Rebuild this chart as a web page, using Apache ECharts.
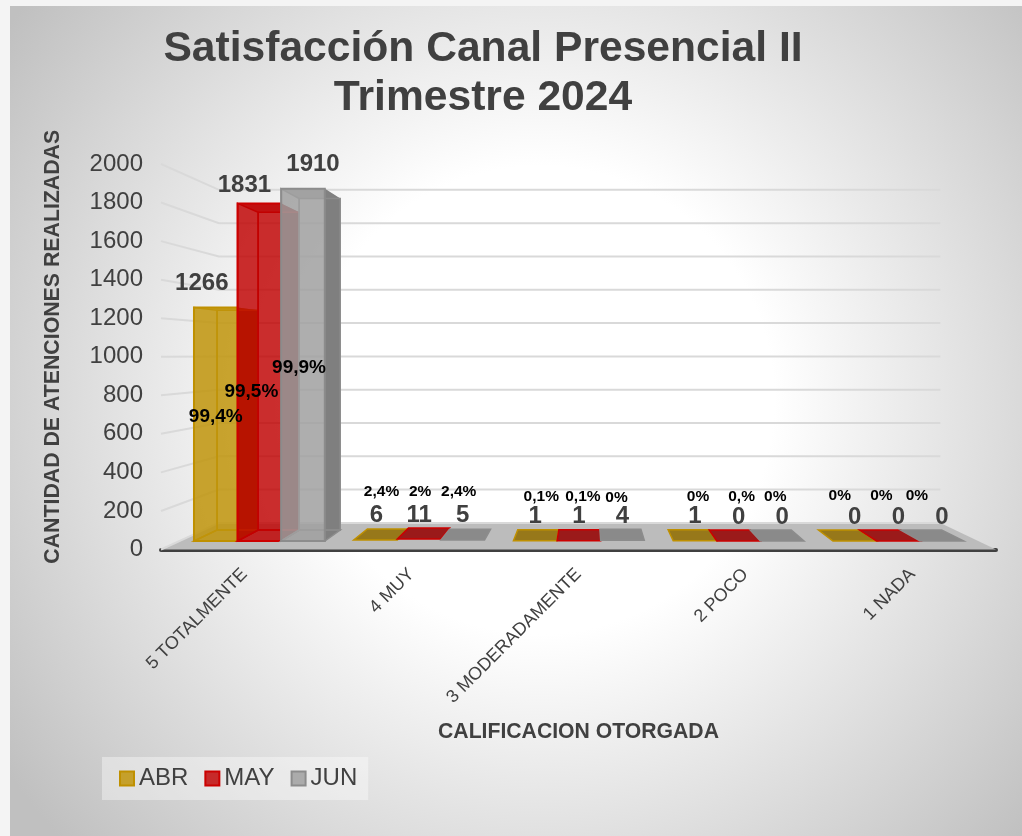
<!DOCTYPE html>
<html>
<head>
<meta charset="utf-8">
<style>html,body{margin:0;padding:0;background:#f4f4f4}#c{width:1022px;height:836px}</style>
<script src="https://cdn.jsdelivr.net/npm/echarts@6/dist/echarts.min.js"></script>
</head>
<body>
<div id="c"></div>
<script>
const categories = ['5 TOTALMENTE', '4 MUY', '3 MODERADAMENTE', '2 POCO', '1 NADA'];
const abr = [1266, 6, 1, 1, 0];
const may = [1831, 11, 1, 0, 0];
const jun = [1910, 5, 4, 0, 0];
const abrPct = ['99,4%', '2,4%', '0,1%', '0%', '0%'];
const mayPct = ['99,5%', '2%', '0,1%', '0,%', '0%'];
const junPct = ['99,9%', '2,4%', '0%', '0%', '0%'];
const yTicks = [0, 200, 400, 600, 800, 1000, 1200, 1400, 1600, 1800, 2000];

const FONT = '"Liberation Sans", Arial, sans-serif';
const TXT = '#404040';
// oblique projection of the chart's 3D look
const VP = [587, 354], D_BAR0 = 0.0435, D_BAR1 = 0.0997, D_WALL = 0.136;
const proj = (p, k) => [p[0] + (VP[0] - p[0]) * k, p[1] + (VP[1] - p[1]) * k];

const styles = [
  {front: 'rgba(191,148,10,0.85)', side: '#8f6c00', top: 'rgba(191,148,10,0.5)', edge: '#bf9000', floor: '#97781a'},
  {front: 'rgba(192,0,0,0.82)', side: '#800000', top: 'rgba(170,0,0,0.6)', edge: '#cc0000', floor: '#9b1a1a'},
  {front: 'rgba(160,160,160,0.85)', side: '#7f7f7f', top: 'rgba(130,130,130,0.6)', edge: '#8c8c8c', floor: '#8a8a8a'}
];
const BAR_FRAC = 0.273;

function poly(points, fill, stroke, lw) {
  return {type: 'polygon', shape: {points}, style: {fill: fill || 'none', stroke: stroke || 'none', lineWidth: lw || 0}};
}
function barItem(sIdx) {
  return function (params, api) {
    const i = api.value(0), v = api.value(1);
    const w = api.size([1, 0])[0] * BAR_FRAC;
    const cx = api.coord([i, 0])[0] + (sIdx - 1) * w;
    const y0 = api.coord([i, 0])[1], y1 = api.coord([i, v])[1];
    const xl = cx - w / 2, xr = cx + w / 2;
    const c = (x, y, k) => proj([x, y], k);
    const s = styles[sIdx];
    const children = [];
    const fl = c(xl, y0, D_BAR0), fr = c(xr, y0, D_BAR0), bl = c(xl, y0, D_BAR1), br = c(xr, y0, D_BAR1);
    const tl = c(xl, y1, D_BAR0), tr = c(xr, y1, D_BAR0), ul = c(xl, y1, D_BAR1), ur = c(xr, y1, D_BAR1);
    if (v < 50) {
      children.push(poly([tl, tr, ur, ul], s.floor, s.edge, 1.5));
    } else {
      children.push(poly([br, fr, tr, ur], s.side, null, 0));
      children.push(poly([tl, tr, ur, ul], s.top, null, 0));
      children.push(poly([ul, ur, br, bl], null, s.edge, 1.5));
      children.push(poly([tl, ul, bl, fl], null, s.edge, 1.5));
      children.push(poly([fl, fr, br, bl], null, s.edge, 1.5));
      children.push(poly([tl, tr, fr, fl], s.front, s.edge, 2));
    }
    return {type: 'group', children};
  };
}

const frameItem = function (params, api) {
  const g = params.coordSys, y = api.coord([0, api.value(0)])[1];
  const a = [g.x, y], b = proj(a, D_WALL), r = proj([g.x + g.width, y], D_WALL);
  return {type: 'polyline', shape: {points: [a, b, r]}, style: {fill: 'none', stroke: '#d9d9d9', lineWidth: 2}};
};
const floorItem = function (params, api) {
  const g = params.coordSys, y = api.coord([0, 0])[1];
  const a = [g.x, y], d = [g.x + g.width, y];
  return poly([a, d, proj(d, D_WALL), proj(a, D_WALL)], '#bcbcbc');
};

const labelNudge = [
  [[-14, -24], [-15, -18], [10, -24]],
  [[1, -25], [0, -24], [0, -25]],
  [[0, -24], [0, -24], [0, -24]],
  [[0, -24], [0, -24], [0, -24]],
  [[0, -24], [0, -24], [0, -24]]
];
const pctNudge = [
  [[0, 109], [-8, 188], [-4, 179]],
  [[6, -48], [1, -47], [-4, -48]],
  [[6, -44], [4, -44], [-6, -43]],
  [[3, -44], [3, -44], [-7, -44]],
  [[-15, -45], [-17, -45], [-25, -45]]
];
const labelRows = [];
[[abr, abrPct], [may, mayPct], [jun, junPct]].forEach(function (pair, s) {
  pair[0].forEach(function (v, i) { labelRows.push([i, v, s, pair[1][i]]); });
});
const labelItem = function (params, api) {
  const i = api.value(0), v = api.value(1), s = api.value(2);
  const pct = labelRows[params.dataIndex][3];
  const w = api.size([1, 0])[0] * BAR_FRAC;
  const cx = api.coord([i, 0])[0] + (s - 1) * w;
  const p = proj([cx, api.coord([i, v])[1]], D_BAR0);
  const n = labelNudge[i][s], q = pctNudge[i][s];
  return {type: 'group', children: [
    {type: 'text', style: {text: String(v), x: p[0] + n[0], y: p[1] + n[1], align: 'center', verticalAlign: 'middle',
      fill: TXT, font: 'bold 24px ' + FONT}},
    {type: 'text', style: {text: pct, x: p[0] + q[0], y: p[1] + q[1], align: 'center', verticalAlign: 'middle',
      fill: '#000000', font: 'bold ' + (i === 0 ? 19 : 15.5) + 'px ' + FONT}}
  ]};
};

const toSeries = (name, vals, s) => ({
  name, type: 'custom', renderItem: barItem(s), clip: false, z: 3 + s,
  itemStyle: {color: styles[s].front, borderColor: styles[s].edge, borderWidth: 2},
  encode: {x: 0, y: 1},
  data: vals.map((v, i) => [i, v])
});

const chart = echarts.init(document.getElementById('c'), null, {renderer: 'canvas'});
chart.setOption({
  animation: false,
  textStyle: {fontFamily: FONT},
  graphic: [{
    type: 'rect', z: -10, silent: true,
    shape: {x: 10, y: 6, width: 1012, height: 830},
    style: {fill: new echarts.graphic.RadialGradient(540, 400, 650, [
      {offset: 0, color: '#ffffff'}, {offset: 0.36, color: '#ffffff'}, {offset: 1, color: '#c0c0c0'}
    ], true)}
  }],
  title: {
    text: 'Satisfacción Canal Presencial II\nTrimestre 2024',
    left: 478, top: 20, textAlign: 'center',
    textStyle: {fontFamily: FONT, fontSize: 42.6, fontWeight: 'bold', color: TXT, lineHeight: 49}
  },
  legend: {
    data: ['ABR', 'MAY', 'JUN'],
    left: 102, top: 757, orient: 'horizontal',
    padding: [9.5, 11, 9.5, 17], itemGap: 16, itemWidth: 14, itemHeight: 14, icon: 'rect',
    backgroundColor: 'rgba(255,255,255,0.38)',
    textStyle: {fontFamily: FONT, fontSize: 24, color: TXT}
  },
  grid: {left: 161, right: 26, top: 164, height: 385.5},
  xAxis: {
    type: 'category', data: categories,
    axisLine: {lineStyle: {color: '#404040', width: 4}}, axisTick: {show: false},
    axisLabel: {rotate: 45, fontSize: 18, color: TXT, margin: 22, interval: 0, fontFamily: FONT},
    name: 'CALIFICACION OTORGADA', nameLocation: 'middle', nameGap: 172,
    nameTextStyle: {fontSize: 21.2, fontWeight: 'bold', color: TXT, fontFamily: FONT}
  },
  yAxis: {
    type: 'value', min: 0, max: 2000, interval: 200,
    axisLine: {show: false}, axisTick: {show: false}, splitLine: {show: false},
    axisLabel: {fontSize: 24, color: TXT, margin: 18, fontFamily: FONT, formatter: v => String(v)},
    name: 'CANTIDAD DE ATENCIONES REALIZADAS', nameLocation: 'middle', nameGap: 97,
    nameTextStyle: {fontSize: 21.3, fontWeight: 'bold', color: TXT, fontFamily: FONT, padding: [0, 0, 0, 20]}
  },
  series: [
    {type: 'custom', name: 'piso', renderItem: floorItem, clip: false, z: 1, data: [[0]], encode: {y: 0}, silent: true},
    {type: 'custom', name: 'rejilla', renderItem: frameItem, clip: false, z: 2, data: yTicks.map(t => [t]), encode: {y: 0}, silent: true},
    toSeries('ABR', abr, 0),
    toSeries('MAY', may, 1),
    toSeries('JUN', jun, 2),
    {type: 'custom', name: 'etiquetas', renderItem: labelItem, clip: false, z: 10, silent: true,
     data: labelRows.map(r => [r[0], r[1], r[2]]), encode: {x: 0, y: 1}}
  ]
});
</script>
</body>
</html>
